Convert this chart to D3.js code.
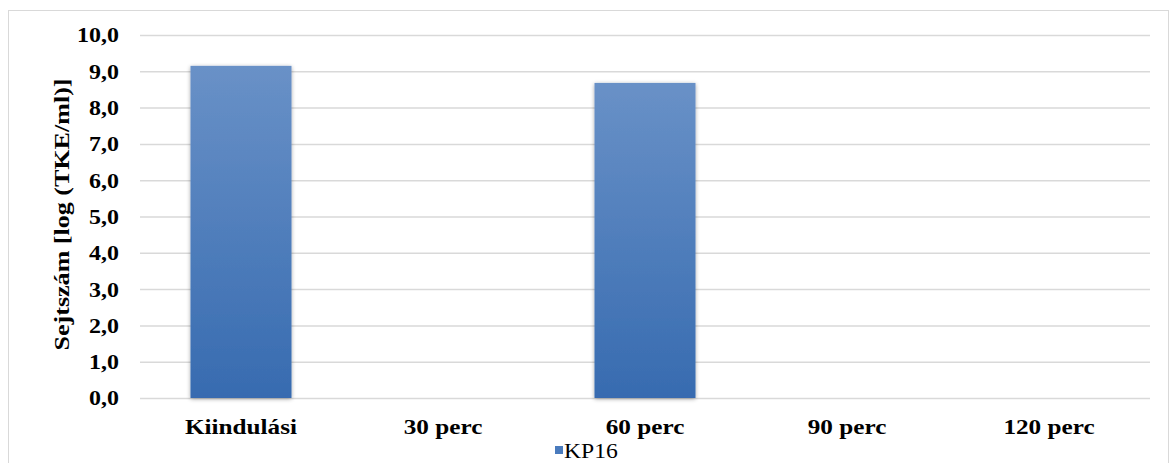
<!DOCTYPE html>
<html>
<head>
<meta charset="utf-8">
<script src="https://cdn.jsdelivr.net/npm/d3@7"></script>
<style>
  html, body { margin: 0; padding: 0; background: #fff; }
  svg { display: block; }
</style>
</head>
<body>
<svg id="chart" width="1169" height="463"></svg>
<script>
// Cell counts per sampling time
const categories = ["Kiindulási", "30 perc", "60 perc", "90 perc", "120 perc"];
const seriesName = "KP16";
const values = [9.15, 0, 8.68, 0, 0];
const yTicks = [0, 1, 2, 3, 4, 5, 6, 7, 8, 9, 10];
const yTitle = "Sejtszám [log (TKE/ml)]";

const FONT = '"Liberation Serif"';
const svg = d3.select("#chart");
const W = 1169, H = 463;
const m = { left: 140, right: 19, top: 35, bottom: 65 };

// widen glyphs a little along the reading direction
function stretch(sel, k) {
  sel.each(function () {
    const len = this.getComputedTextLength();
    d3.select(this).attr("textLength", len * k).attr("lengthAdjust", "spacingAndGlyphs");
  });
}

// chart area border
svg.append("rect")
  .attr("x", 8.5).attr("y", 10.5)
  .attr("width", W - 9).attr("height", H + 10)
  .attr("fill", "#fff").attr("stroke", "#d9d9d9").attr("stroke-width", 1);

const x = d3.scaleBand().domain(categories).range([m.left, W - m.right]).paddingInner(0.5).paddingOuter(0.25);
const y = d3.scaleLinear().domain([0, 10]).range([H - m.bottom, m.top]);

const defs = svg.append("defs");
const grad = defs.append("linearGradient").attr("id", "barGrad")
  .attr("x1", 0).attr("y1", 0).attr("x2", 0).attr("y2", 1);
grad.append("stop").attr("offset", "0%").attr("stop-color", "#6991c7");
grad.append("stop").attr("offset", "100%").attr("stop-color", "#376bb0");

const shadow = defs.append("filter").attr("id", "shadow")
  .attr("x", "-20%").attr("y", "-20%").attr("width", "140%").attr("height", "140%");
shadow.append("feGaussianBlur").attr("in", "SourceAlpha").attr("stdDeviation", 2).attr("result", "b");
shadow.append("feOffset").attr("in", "b").attr("dx", 0).attr("dy", 1).attr("result", "o");
shadow.append("feComponentTransfer").attr("in", "o").attr("result", "s")
  .append("feFuncA").attr("type", "linear").attr("slope", 0.35);
const merge = shadow.append("feMerge");
merge.append("feMergeNode").attr("in", "s");
merge.append("feMergeNode").attr("in", "SourceGraphic");

// gridlines + y tick labels
const yAxis = d3.axisLeft(y).tickValues(yTicks)
  .tickSize(-(W - m.left - m.right))
  .tickPadding(21)
  .tickFormat(d => d3.format(".1f")(d).replace(".", ","));
const gy = svg.append("g").attr("transform", `translate(${m.left},0)`).call(yAxis)
  .attr("font-family", null);
gy.select(".domain").remove();
gy.selectAll(".tick line").attr("stroke", "#d9d9d9").attr("stroke-width", 1.5);
gy.selectAll(".tick text")
  .style("font-family", FONT)
  .attr("font-weight", "bold").attr("font-size", 21).attr("fill", "#000")
  .attr("dy", "0.33em")
  .call(stretch, 1.14);

// bars
svg.append("g").selectAll("rect").data(values).join("rect")
  .attr("x", (d, i) => x(categories[i]))
  .attr("width", x.bandwidth())
  .attr("y", d => y(d))
  .attr("height", d => y(0) - y(d))
  .attr("fill", "url(#barGrad)")
  .attr("filter", "url(#shadow)");

// x axis labels
const xAxis = d3.axisBottom(x).tickSize(0).tickPadding(21);
const gx = svg.append("g").attr("transform", `translate(0,${y(0)})`).call(xAxis)
  .attr("font-family", null);
gx.select(".domain").remove();
gx.selectAll(".tick text")
  .style("font-family", FONT)
  .attr("font-weight", "bold").attr("font-size", 21).attr("fill", "#000")
  .call(stretch, 1.2);

// y axis title
svg.append("text")
  .attr("transform", `translate(69,${(y(0) + y(10)) / 2 - 2}) rotate(-90)`)
  .attr("text-anchor", "middle")
  .style("font-family", FONT)
  .attr("font-weight", "bold").attr("font-size", 21).attr("fill", "#000")
  .text(yTitle)
  .call(stretch, 1.24);

// legend
const lg = svg.append("g").attr("transform", "translate(555,446)");
lg.append("rect").attr("x", 0).attr("y", 0).attr("width", 8).attr("height", 8).attr("fill", "#4a7bbd");
lg.append("text").attr("x", 9).attr("y", 12)
  .style("font-family", FONT)
  .attr("font-size", 20).attr("fill", "#000")
  .text(seriesName)
  .call(stretch, 1.18);
</script>
</body>
</html>
